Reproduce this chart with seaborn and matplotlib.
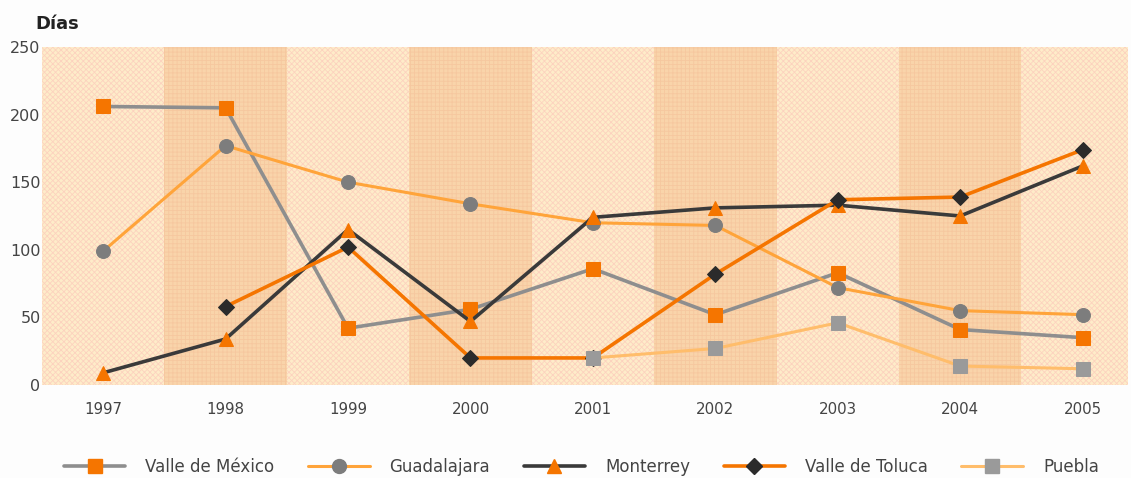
import numpy as np
import pandas as pd
import matplotlib
matplotlib.use("Agg")
import matplotlib.pyplot as plt
from matplotlib.lines import Line2D
import seaborn as sns

years = ["1997", "1998", "1999", "2000", "2001", "2002", "2003", "2004", "2005"]
valle_mexico = [206, 205, 42, 56, 86, 52, 83, 41, 35]
guadalajara = [99, 177, 150, 134, 120, 118, 72, 55, 52]
monterrey = [9, 34, 115, 47, 124, 131, 133, 125, 162]
valle_toluca = [np.nan, 58, 102, 20, 20, 82, 137, 139, 174]
puebla = [np.nan, np.nan, np.nan, np.nan, 20, 27, 46, 14, 12]
series_names = ["Valle de México", "Guadalajara", "Monterrey", "Valle de Toluca", "Puebla"]
yticks = [0, 50, 100, 150, 200, 250]

sns.set_theme(style="white")
plt.rcParams['font.family'] = ['DejaVu Sans']
plt.rcParams['hatch.linewidth'] = 0.6

fig = plt.figure(figsize=(11.31, 4.78), dpi=100)
fig.patch.set_facecolor("#fdfdfd")
ax = fig.add_axes([0.0371, 0.1946, 0.9602, 0.7071])

x = np.arange(len(years))
ax.set_xlim(-0.5, 8.37)
ax.set_ylim(0, 250)

# background bands
ax.set_facecolor("#feecc9")
ax.axvspan(-0.5, 8.37, color="#feecc9", zorder=0, linewidth=0)
ax.axvspan(-0.5, 8.37, facecolor="none", edgecolor="#fcd2be", hatch="xxxxxx", linewidth=0, zorder=0.1)
for i in range(1, len(years), 2):
    ax.axvspan(i - 0.5, i + 0.5, color="#f9d4aa", zorder=0.2, linewidth=0)
    ax.axvspan(i - 0.5, i + 0.5, facecolor="none", edgecolor="#f6c79f", hatch="++++", linewidth=0, zorder=0.25)

styles = [
    dict(data=valle_mexico, color="#8e8e8e", marker="s", mfc="#f57500", mec="#f57500", ms=10, lw=2.6),
    dict(data=guadalajara, color="#ffa43a", marker="o", mfc="#7d7d7d", mec="#7d7d7d", ms=10, lw=2.2),
    dict(data=monterrey, color="#3a3a3a", marker="^", mfc="#f57500", mec="#f57500", ms=10, lw=2.6),
    dict(data=valle_toluca, color="#f57500", marker="D", mfc="#2b2b2b", mec="#2b2b2b", ms=8, lw=2.6),
    dict(data=puebla, color="#ffbd6b", marker="s", mfc="#9a9a9a", mec="#9a9a9a", ms=10, lw=2.2),
]

handles = []
for name, st in zip(series_names, styles):
    df = pd.DataFrame({"x": x, "y": st["data"]}).dropna()
    sns.lineplot(data=df, x="x", y="y", ax=ax, color=st["color"], linewidth=st["lw"],
                 marker=st["marker"], markersize=st["ms"], markerfacecolor=st["mfc"],
                 markeredgecolor=st["mec"], zorder=3)
    handles.append(Line2D([0], [0], color=st["color"], lw=st["lw"], marker=st["marker"],
                          markersize=st["ms"], markerfacecolor=st["mfc"], markeredgecolor=st["mec"]))

ax.set_xticks(x)
ax.set_xticklabels(years, color="#444444", fontsize=10.8)
ax.set_yticks(yticks)
ax.set_yticklabels([str(v) for v in yticks], color="#444444", fontsize=11.5)
ax.tick_params(axis="x", length=0, pad=12)
ax.tick_params(axis="y", length=0, pad=1)
ax.set_xlabel("")
ax.set_ylabel("")
for s in ax.spines.values():
    s.set_visible(False)

fig.text(0.031, 0.95, "Días", fontsize=13, fontweight="bold", color="#222222", ha="left", va="center")

fig.legend(handles, series_names, loc="center", bbox_to_anchor=(0.514, 0.023), ncol=5,
           frameon=False, handlelength=3.7, columnspacing=2.0, handletextpad=1.2,
           fontsize=12, labelcolor="#444444")

fig.savefig("out.png", dpi=100, facecolor=fig.get_facecolor())
